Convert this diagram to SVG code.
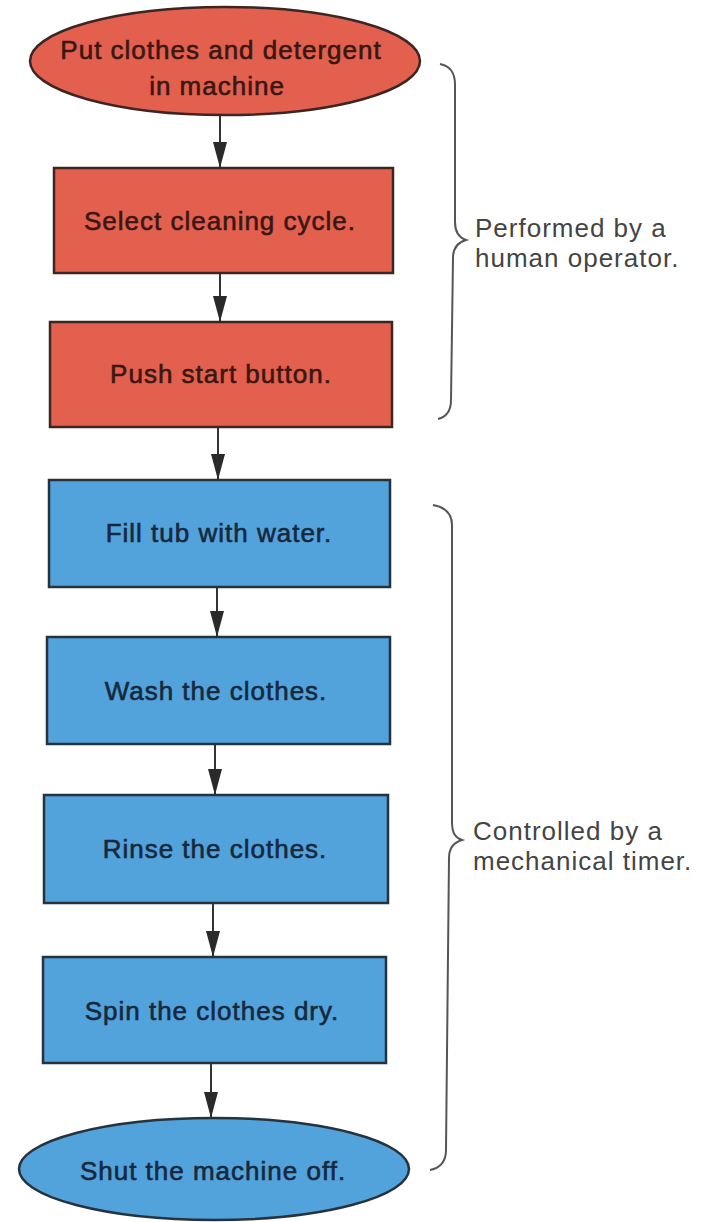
<svg xmlns="http://www.w3.org/2000/svg" width="704" height="1222" viewBox="0 0 704 1222">
  <style>
    .step text { font-family: "Liberation Sans", Arial, sans-serif; font-size: 26px; letter-spacing: 1px; text-anchor: middle; stroke-width: 0.6; }
    .red { fill: #e3604f; stroke: #3d2622; stroke-width: 2.5; }
    .blue { fill: #52a2db; stroke: #26333d; stroke-width: 2.5; }
    .red-text { fill: #3a1712; stroke: #3a1712; }
    .blue-text { fill: #17283c; stroke: #17283c; }
    .flow { stroke: #333; stroke-width: 2; fill: none; marker-end: url(#arrow); }
    .brace { stroke: #555; stroke-width: 2; fill: none; }
    .note { font-family: "Liberation Sans", Arial, sans-serif; font-size: 26px; letter-spacing: 1px; fill: #444; }
  </style>
  <defs>
    <marker id="arrow" viewBox="0 0 26 14" markerWidth="26" markerHeight="14" refX="26" refY="7" orient="auto" markerUnits="userSpaceOnUse">
      <path d="M0,0 L26,7 L0,14 z" fill="#2a2a2a"/>
    </marker>
  </defs>

  <rect width="704" height="1222" fill="#ffffff"/>

  <!-- connectors between steps -->
  <g id="connectors">
    <line class="flow" x1="220" y1="115" x2="220" y2="168"/>
    <line class="flow" x1="220" y1="273" x2="220" y2="322"/>
    <line class="flow" x1="218" y1="427" x2="218" y2="480"/>
    <line class="flow" x1="217" y1="587" x2="217" y2="637"/>
    <line class="flow" x1="215" y1="744" x2="215" y2="795"/>
    <line class="flow" x1="213" y1="903" x2="213" y2="957"/>
    <line class="flow" x1="211" y1="1063" x2="211" y2="1118"/>
  </g>

  <!-- operator steps -->
  <g id="put-clothes" class="step">
    <ellipse class="red" cx="225" cy="61" rx="195" ry="54"/>
    <text class="red-text" x="221" y="59">Put clothes and detergent</text>
    <text class="red-text" x="217" y="95">in machine</text>
  </g>
  <g id="select-cycle" class="step">
    <rect class="red" x="54" y="168" width="339" height="105"/>
    <text class="red-text" x="220" y="230">Select cleaning cycle.</text>
  </g>
  <g id="push-start" class="step">
    <rect class="red" x="50" y="322" width="342" height="105"/>
    <text class="red-text" x="221" y="383">Push start button.</text>
  </g>

  <!-- timer-controlled steps -->
  <g id="fill-tub" class="step">
    <rect class="blue" x="49" y="480" width="341" height="107"/>
    <text class="blue-text" x="219" y="542">Fill tub with water.</text>
  </g>
  <g id="wash" class="step">
    <rect class="blue" x="47" y="637" width="343" height="107"/>
    <text class="blue-text" x="216" y="700">Wash the clothes.</text>
  </g>
  <g id="rinse" class="step">
    <rect class="blue" x="44" y="795" width="344" height="108"/>
    <text class="blue-text" x="215" y="858">Rinse the clothes.</text>
  </g>
  <g id="spin" class="step">
    <rect class="blue" x="43" y="957" width="343" height="106"/>
    <text class="blue-text" x="212" y="1020">Spin the clothes dry.</text>
  </g>
  <g id="shut-off" class="step">
    <ellipse class="blue" cx="214" cy="1169" rx="195" ry="51"/>
    <text class="blue-text" x="213" y="1180">Shut the machine off.</text>
  </g>

  <!-- group braces with their notes -->
  <g id="operator-brace">
    <path class="brace" d="M440 64 C450 66 455 72 455 85 L455 222 C455 234 460 238 466 240 C459 242 453 246 453 258 L451 400 C451 412 446 417 438 419"/>
    <text class="note" x="475" y="237">Performed by a</text>
    <text class="note" x="475" y="267">human operator.</text>
  </g>
  <g id="timer-brace">
    <path class="brace" d="M433 505 C444 507 452 512 452 525 L452 822 C452 834 456 838 462 840 C455 842 449 846 449 858 L446 1150 C446 1162 440 1168 430 1170"/>
    <text class="note" x="473" y="840">Controlled by a</text>
    <text class="note" x="473" y="870">mechanical timer.</text>
  </g>
</svg>
